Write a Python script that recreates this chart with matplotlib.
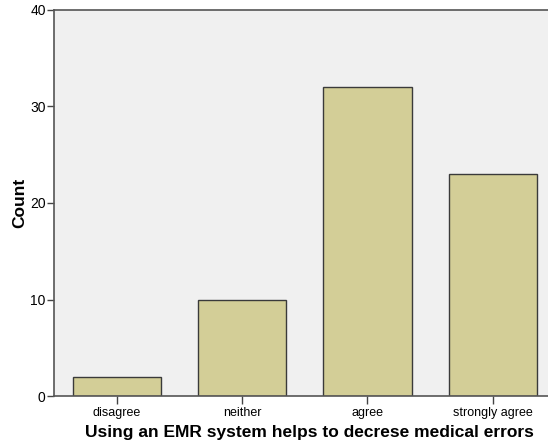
import matplotlib.pyplot as plt

categories = ['disagree', 'neither', 'agree', 'strongly agree']
counts = [2, 10, 32, 23]
yticks = [0, 10, 20, 30, 40]

plt.rcParams['font.family'] = ['Liberation Sans', 'DejaVu Sans']

fig = plt.figure(figsize=(5.48, 4.44), dpi=100)
fig.patch.set_facecolor('white')
ax = fig.add_axes([54 / 548, 1 - 396 / 444, (555.5 - 54) / 548, (396 - 10) / 444])
ax.set_facecolor('#f0f0f0')

x = list(range(len(categories)))
ax.bar(x, counts, width=0.704, color='#d3ce97', edgecolor='#3a3a3a', linewidth=1.0, zorder=2)

ax.set_xlim(-0.5, len(categories) - 0.5)
ax.set_ylim(0, 40)
ax.set_yticks(yticks)
ax.set_xticks(x)
ax.set_xticklabels(categories, fontsize=9)
ax.tick_params(axis='y', labelsize=10, length=5, width=1, color='#444444', pad=1)
ax.tick_params(axis='x', length=6, width=1, color='#444444', pad=2)

for side in ['left', 'bottom', 'top']:
    ax.spines[side].set_color('#555555')
    ax.spines[side].set_linewidth(1.2)
ax.spines['right'].set_visible(False)

ax.set_xlabel('Using an EMR system helps to decrese medical errors', fontsize=12.5, fontweight='bold', labelpad=4)
ax.xaxis.set_label_coords(0.51, -0.075)
ax.set_ylabel('Count', fontsize=12.5, fontweight='bold', labelpad=2)

fig.savefig('out.png', dpi=100)
